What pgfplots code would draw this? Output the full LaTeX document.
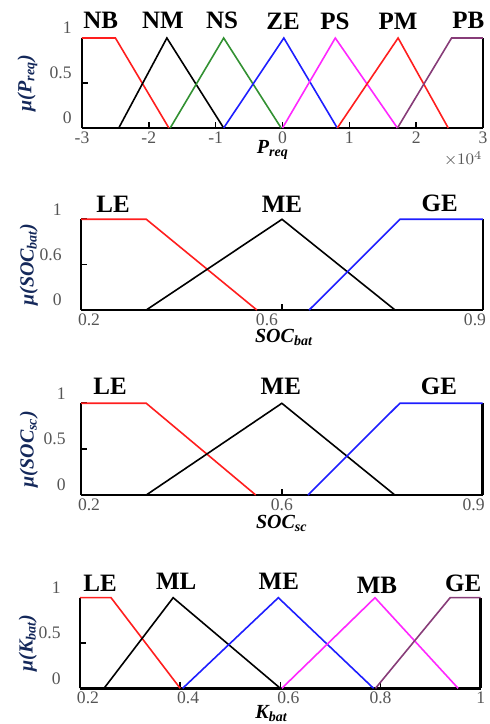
\documentclass[border=0pt]{standalone}
\usepackage{fontspec}
\setmainfont{Liberation Serif}
\usepackage{pgfplots}
\pgfplotsset{compat=1.18}
\definecolor{mured}{RGB}{255,30,30}
\definecolor{mugreen}{RGB}{50,145,50}
\definecolor{mublue}{RGB}{30,30,255}
\definecolor{mumag}{RGB}{255,40,255}
\definecolor{mupurple}{RGB}{135,60,120}
\definecolor{labblue}{RGB}{20,40,90}
\definecolor{tickgray}{RGB}{85,85,85}
\tikzset{nm/.style={font=\fontsize{12.5}{14}\selectfont\bfseries, anchor=center}}
\newcommand{\shr}[2]{\makebox[0pt]{\hspace{#1}#2}}
\newcommand{\shl}[2]{\makebox[0pt]{#2\hspace{#1}}}
\pgfplotsset{
 mf/.style={
  scale only axis, clip=false, anchor=south west,
  axis x line=bottom, axis y line=box,
  axis line style={-, line width=1.2pt, black},
  tick align=inside, ytick pos=left, major tick length=3pt,
  tick style={black, line width=0.8pt},
  ymin=0, ymax=1, ytick={0,0.5,1},
  /pgf/number format/assume math mode=true,
  ticklabel style={font=\fontsize{8.8}{10}\selectfont, text=tickgray},
  yticklabel style={inner sep=0pt, anchor=east, yshift=5pt},
  xticklabel style={inner sep=0pt, anchor=north, yshift=-1.5pt},
  xlabel style={font=\fontsize{10}{12}\selectfont\bfseries\itshape, anchor=center},
  ylabel style={font=\fontsize{10}{12}\selectfont\bfseries\itshape, text=labblue, anchor=center},
  every axis plot/.append style={line width=0.8pt, mark=none},
 },
}
\begin{document}
\begin{tikzpicture}
\path[use as bounding box] (0,0) rectangle (244.5pt,362pt);
% Panel 1
\begin{axis}[mf, at={(41pt,298pt)}, width=200.5pt, height=45pt,
  xmin=-30000, xmax=30000, xtick={-30000,-20000,-10000,0,10000,20000,30000},
  scaled x ticks=base 10:-4, tick scale binop=\times,
  every x tick scale label/.style={at={(axis description cs:1,0)}, anchor=north east, yshift=-10pt, inner sep=0pt, font=\fontsize{8.5}{10}\selectfont, text=tickgray},
  yticklabel style={xshift=-5pt},
  xlabel={P\textsubscript{req}}, xlabel style={at={(axis description cs:0.476,0)}, yshift=-11pt},
  ylabel={μ(P\textsubscript{req})}, ylabel style={at={(axis description cs:-0.136,0.5)}}]
\addplot[mured] coordinates {(-30000,1) (-25000,1) (-17000,0)};
\addplot[black] coordinates {(-24500,0) (-17300,1) (-8800,0)};
\addplot[mugreen] coordinates {(-16800,0) (-8800,1) (-200,0)};
\addplot[mublue] coordinates {(-8800,0) (200,1) (8200,0)};
\addplot[mumag] coordinates {(0,0) (7900,1) (17200,0)};
\addplot[mured] coordinates {(8200,0) (17300,1) (24800,0)};
\addplot[mupurple] coordinates {(17200,0) (25300,1) (30000,1)};
\node[nm] at (axis cs:-27200,1.2) {NB};
\node[nm] at (axis cs:-17900,1.2) {NM};
\node[nm] at (axis cs:-9050,1.2) {NS};
\node[nm] at (axis cs:80,1.19) {ZE};
\node[nm] at (axis cs:7860,1.19) {PS};
\node[nm] at (axis cs:17300,1.19) {PM};
\node[nm] at (axis cs:27800,1.2) {PB};
\end{axis}
% Panel 2
\begin{axis}[mf, at={(40.5pt,207pt)}, width=201pt, height=45.35pt,
  xmin=0.2, xmax=1, xtick={0.2,0.6,1},
  xticklabels={\shr{8pt}{0.2},\shl{15pt}{0.6},\shl{8pt}{0.9}},
  yticklabels={0,0.6,1}, yticklabel style={xshift=-9.5pt},
  xlabel={SOC\textsubscript{bat}}, xlabel style={at={(axis description cs:0.505,0)}, yshift=-13.5pt},
  ylabel={μ(SOC\textsubscript{bat})}, ylabel style={at={(axis description cs:-0.13,0.5)}}]
\addplot[mured] coordinates {(0.2,1) (0.33,1) (0.55,0)};
\addplot[black] coordinates {(0.33,0) (0.6,1) (0.825,0)};
\addplot[mublue] coordinates {(0.654,0) (0.835,1) (1,1)};
\node[nm] at (axis cs:0.264,1.17) {LE};
\node[nm] at (axis cs:0.6,1.17) {ME};
\node[nm] at (axis cs:0.914,1.18) {GE};
\end{axis}
% Panel 3
\begin{axis}[mf, at={(40.5pt,114.5pt)}, width=200.85pt, height=45.85pt,
  xmin=0.2, xmax=1, xtick={0.2,0.6,1},
  xticklabels={\shr{8pt}{0.2},0.6,\shl{9pt}{0.9}},
  yticklabels={0,0.5,1}, yticklabel style={xshift=-7.5pt},
  xlabel={SOC\textsubscript{sc}}, xlabel style={at={(axis description cs:0.5,0)}, yshift=-14pt},
  ylabel={μ(SOC\textsubscript{sc})}, ylabel style={at={(axis description cs:-0.13,0.5)}}]
\addplot[mured] coordinates {(0.2,1) (0.33,1) (0.548,0)};
\addplot[black] coordinates {(0.33,0) (0.6,1) (0.825,0)};
\addplot[mublue] coordinates {(0.652,0) (0.835,1) (1,1)};
\node[nm] at (axis cs:0.258,1.18) {LE};
\node[nm] at (axis cs:0.598,1.18) {ME};
\node[nm] at (axis cs:0.913,1.19) {GE};
\end{axis}
% Panel 4
\begin{axis}[mf, at={(40pt,17.85pt)}, width=200.35pt, height=45.3pt,
  xmin=0.2, xmax=1, xtick={0.2,0.4,0.6,0.8,1},
  xticklabels={\shr{8pt}{0.2},\shr{8pt}{0.4},\shr{8pt}{0.6},0.8,1},
  yticklabels={0,0.5,1}, yticklabel style={xshift=-9.5pt},
  xlabel={K\textsubscript{bat}}, xlabel style={at={(axis description cs:0.478,0)}, yshift=-12.5pt},
  ylabel={μ(K\textsubscript{bat})}, ylabel style={at={(axis description cs:-0.13,0.5)}}]
\addplot[mured] coordinates {(0.2,1) (0.262,1) (0.4,0)};
\addplot[black] coordinates {(0.248,0) (0.386,1) (0.6,0)};
\addplot[mublue] coordinates {(0.405,0) (0.596,1) (0.786,0)};
\addplot[mumag] coordinates {(0.603,0) (0.789,1) (0.955,0)};
\addplot[mupurple] coordinates {(0.79,0) (0.939,1) (1,1)};
\node[nm] at (axis cs:0.24,1.16) {LE};
\node[nm] at (axis cs:0.392,1.18) {ML};
\node[nm] at (axis cs:0.597,1.18) {ME};
\node[nm] at (axis cs:0.793,1.14) {MB};
\node[nm] at (axis cs:0.965,1.16) {GE};
\end{axis}
\end{tikzpicture}
\end{document}
